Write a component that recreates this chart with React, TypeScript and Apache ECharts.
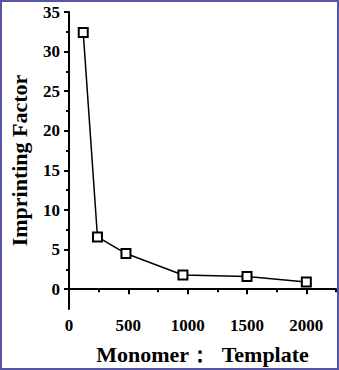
import React, { useEffect, useRef } from "react";
import * as echarts from "echarts";

const ratios = [120, 240, 480, 960, 1500, 2000];
const imprintingFactor = [32.4, 6.6, 4.5, 1.8, 1.6, 0.9];
const xMajorTicks = [0, 500, 1000, 1500, 2000];
const xMinorTicks = [250, 750, 1250, 1750, 2250];
const yMajorTicks = [0, 5, 10, 15, 20, 25, 30, 35];
const yMinorTicks = [2.5, 7.5, 12.5, 17.5, 22.5, 27.5, 32.5];

const FONT = "'Liberation Serif', 'Times New Roman', serif";

export default function App() {
  const ref = useRef<HTMLDivElement>(null);
  useEffect(() => {
    if (!ref.current) return;
    const chart = echarts.init(ref.current, null, { renderer: "svg" });
    const grid = { left: 66, right: 3, top: 12, bottom: 60 };
    const labelStyle = {
      color: "#000",
      fontFamily: FONT,
      fontWeight: "bold" as const,
      fontSize: 17,
    };
    const fmt = (v: number) => String(v);
    chart.setOption({
      animation: false,
      backgroundColor: "#fff",
      grid,
      xAxis: [
        {
          type: "value",
          min: 0,
          max: 2250,
          name: "Monomer：  Template",
          nameLocation: "middle",
          nameGap: 34,
          nameTextStyle: { ...labelStyle, fontSize: 22 },
          axisLine: { lineStyle: { color: "#000", width: 2 } },
          axisTick: {
            customValues: xMajorTicks,
            length: 5,
            lineStyle: { color: "#000", width: 2 },
          },
          axisLabel: {
            customValues: xMajorTicks,
            margin: 8,
            formatter: fmt,
            ...labelStyle,
          },
          splitLine: { show: false },
        },
        {
          type: "value",
          min: 0,
          max: 2250,
          position: "bottom",
          axisLine: { show: false },
          axisTick: {
            customValues: xMinorTicks,
            length: 3,
            lineStyle: { color: "#000", width: 2 },
          },
          axisLabel: { show: false },
          splitLine: { show: false },
        },
      ],
      yAxis: [
        {
          type: "value",
          min: -2.5,
          max: 35,
          name: "Imprinting Factor",
          nameLocation: "middle",
          nameGap: 39,
          nameTextStyle: { ...labelStyle, fontSize: 22 },
          axisLine: { show: true, lineStyle: { color: "#000", width: 2 } },
          axisTick: {
            show: true,
            customValues: yMajorTicks,
            length: 5,
            lineStyle: { color: "#000", width: 2 },
          },
          axisLabel: {
            customValues: yMajorTicks,
            margin: 9,
            formatter: fmt,
            ...labelStyle,
          },
          splitLine: { show: false },
        },
        {
          type: "value",
          min: -2.5,
          max: 35,
          position: "left",
          axisLine: { show: false },
          axisTick: {
            show: true,
            customValues: yMinorTicks,
            length: 3,
            lineStyle: { color: "#000", width: 2 },
          },
          axisLabel: { show: false },
          splitLine: { show: false },
        },
      ],
      series: [
        {
          type: "line",
          xAxisIndex: 0,
          yAxisIndex: 0,
          data: ratios.map((r, i) => [r, imprintingFactor[i]]),
          symbol: "rect",
          symbolSize: 9,
          showAllSymbol: true,
          lineStyle: { color: "#000", width: 1.5 },
          itemStyle: { color: "#fff", borderColor: "#000", borderWidth: 2 },
        },
      ],
      graphic: [
        {
          type: "rect",
          shape: { x: 1, y: 1, width: 337, height: 368 },
          style: { fill: "none", stroke: "#5656a8", lineWidth: 2 },
          silent: true,
          z: 100,
        },
      ],
    });
    return () => chart.dispose();
  }, []);
  return (
    <div
      ref={ref}
      style={{ position: "fixed", left: 0, top: 0, width: 339, height: 370 }}
    />
  );
}
